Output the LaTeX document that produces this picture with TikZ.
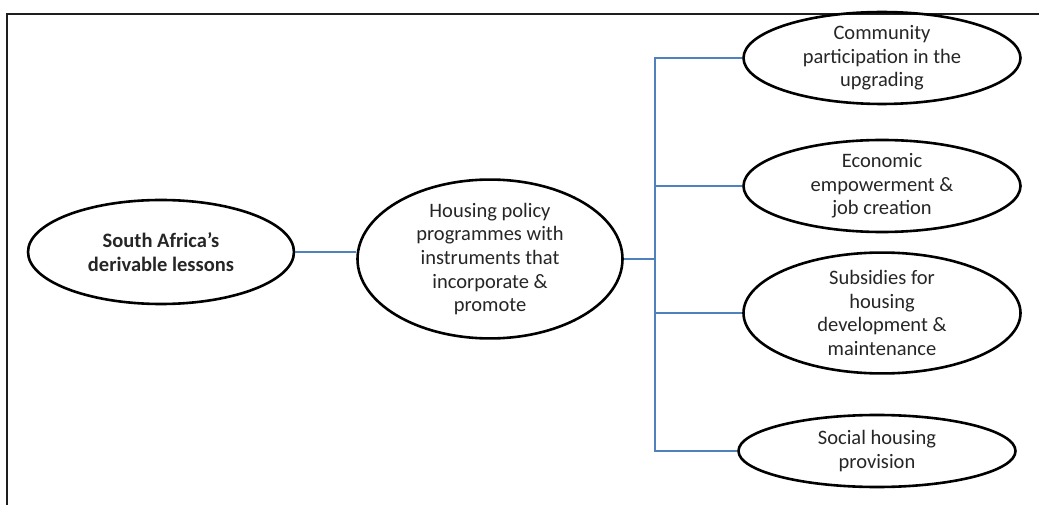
\documentclass[tikz,border=0pt]{standalone}
\usepackage{fontspec}
\setmainfont{Carlito}
\usetikzlibrary{shapes.geometric}
\definecolor{linkblue}{RGB}{79,129,189}
\definecolor{framegray}{RGB}{30,30,30}
\begin{document}
\begin{tikzpicture}[x=1pt,y=1pt,
  oval/.style={ellipse,draw=black,line width=2.6pt,inner sep=0pt,align=center,
    font=\fontsize{20.5}{23.7}\selectfont,text=black!85},
  conn/.style={draw=linkblue,line width=1.3pt}]
\useasboundingbox (0,0) rectangle (1039,504);
\fill[white] (0,0) rectangle (1039,504);
\draw[framegray,line width=2.2pt] (7,-5) -- (7,490) -- (1045,490);
\node[oval,minimum width=266pt,minimum height=104pt,font=\fontsize{20.5}{23.7}\selectfont\bfseries] (A) at (161,252) {South Africa’s\\derivable lessons};
\node[oval,minimum width=265pt,minimum height=133pt] (B) at (490,245) {Housing policy\\programmes with\\instruments that\\incorporate \&\\promote};
\node[oval,minimum width=277pt,minimum height=82pt] (C1) at (882,446) {Community\\participation in the\\upgrading};
\node[oval,minimum width=277pt,minimum height=92pt] (C2) at (882,318) {Economic\\empowerment \&\\job creation};
\node[oval,minimum width=277pt,minimum height=112pt] (C3) at (882,191) {Subsidies for\\housing\\development \&\\maintenance};
\node[oval,minimum width=277pt,minimum height=72pt] (C4) at (877,53) {Social housing\\provision};
\coordinate (j) at (655,245);
\draw[conn] (A.east) -- (B.west |- A.east);
\draw[conn] (B.east) -- (j);
\draw[conn] (C1.west) -| (j) |- (C4.west);
\draw[conn] (j) |- (C2.west);
\draw[conn] (j) |- (C3.west);
\end{tikzpicture}
\end{document}
